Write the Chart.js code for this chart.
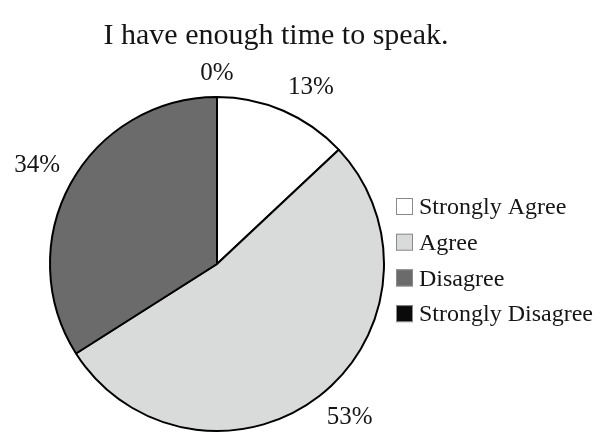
<!DOCTYPE html>
<html>
<head>
<meta charset="utf-8">
<script src="https://cdn.jsdelivr.net/npm/chart.js@4/dist/chart.umd.min.js"></script>
<style>
    html, body { margin: 0; padding: 0; background: #fff; }
    #caixa { width: 603px; height: 434px; position: relative; }
</style>
</head>
<body>
<div id="caixa"><canvas id="graficoPizza" width="603" height="434"></canvas></div>
<script>
const titulo     = 'I have enough time to speak.';
const categorias = ['Strongly Agree', 'Agree', 'Disagree', 'Strongly Disagree'];
const valores    = [13, 53, 34, 0];
const cores      = ['#ffffff', '#d9dbdb', '#6b6b6b', '#0a0a0a'];

const fonteSerif = '"Liberation Serif", "Times New Roman", serif';

// rótulos, título e legenda desenhados por cima do gráfico
const desenhoExtra = {
    id: 'desenhoExtra',
    afterDraw(chart) {
        const ctx  = chart.ctx;
        const arcs = chart.getDatasetMeta(0).data;
        ctx.save();
        ctx.fillStyle = '#151515';
        ctx.textAlign = 'center';
        ctx.textBaseline = 'middle';

        // rótulo fica encostado por fora da borda, como no Excel
        ctx.font = '25px ' + fonteSerif;
        arcs.forEach((arc, i) => {
            const p = arc.getProps(['x', 'y', 'startAngle', 'endAngle', 'outerRadius'], true);
            const meio = (p.startAngle + p.endAngle) / 2;
            const dx = Math.cos(meio), dy = Math.sin(meio);
            const texto = valores[i] + '%';
            const w = ctx.measureText(texto).width, h = 24;
            const r = p.outerRadius + 12;
            const sx = Math.abs(dx) < 0.05 ? 0 : Math.sign(dx);
            const sy = Math.abs(dy) < 0.05 ? 0 : Math.sign(dy);
            ctx.fillText(texto, p.x + dx * r + sx * w / 2, p.y + dy * r + sy * h / 2);
        });

        ctx.font = '30px ' + fonteSerif;
        ctx.fillText(titulo, 276, 36);

        ctx.textAlign = 'left';
        ctx.font = '24px ' + fonteSerif;
        categorias.forEach((nome, i) => {
            const y = 198 + i * 35.7;
            ctx.fillStyle = cores[i];
            ctx.fillRect(396, y, 17, 17);
            ctx.strokeStyle = '#8a8a8a';
            ctx.lineWidth = 1;
            ctx.strokeRect(396.5, y + 0.5, 16, 16);
            ctx.fillStyle = '#151515';
            ctx.fillText(nome, 419, y + 10);
        });
        ctx.restore();
    }
};

new Chart(document.getElementById('graficoPizza').getContext('2d'), {
    type: 'pie',
    data: {
        labels: categorias,
        datasets: [{
            data: valores,
            backgroundColor: cores,
            borderColor: '#000000',
            borderWidth: 2
        }]
    },
    options: {
        responsive: false,
        animation: false,
        events: [],
        layout: { padding: { left: 49, right: 218, top: 96, bottom: 2 } },
        plugins: {
            legend: { display: false },
            tooltip: { enabled: false },
            title: { display: false }
        }
    },
    plugins: [desenhoExtra]
});
</script>
</body>
</html>
